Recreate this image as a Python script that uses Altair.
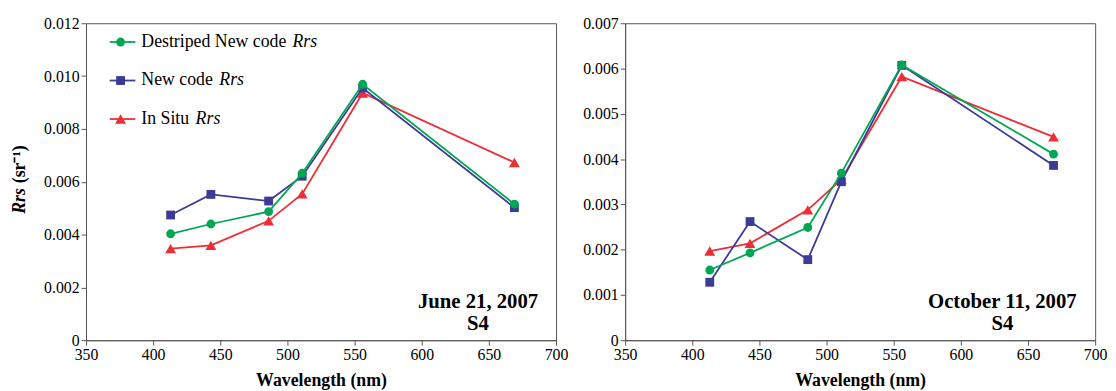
import altair as alt
import pandas as pd

wavelength = [413, 443, 486, 511, 556, 669]

series_names = ["Destriped New code ", "New code ", "In Situ "]
series_colors = ["#00a651", "#3b3b98", "#ee2e36"]
series_shapes = ["circle", "square", "triangle-up"]
series_sizes = [80, 80, 120]

# June 21, 2007
destriped_jun = [0.00403, 0.00440, 0.00487, 0.00632, 0.00969, 0.00515]
newcode_jun = [0.00474, 0.00552, 0.00527, 0.00621, 0.00955, 0.00502]
insitu_jun = [0.00347, 0.00359, 0.00452, 0.00554, 0.00936, 0.00673]

# October 11, 2007
destriped_oct = [0.00155, 0.00193, 0.00249, 0.00369, 0.00608, 0.00411]
newcode_oct = [0.00128, 0.00262, 0.00178, 0.00350, 0.00607, 0.00386]
insitu_oct = [0.00197, 0.00214, 0.00288, 0.00355, 0.00582, 0.00449]

x_ticks = [350, 400, 450, 500, 550, 600, 650, 700]
y_ticks_jun = [0, 0.002, 0.004, 0.006, 0.008, 0.010, 0.012]
y_ticks_oct = [0, 0.001, 0.002, 0.003, 0.004, 0.005, 0.006, 0.007]

FONT = "Liberation Serif"
one = pd.DataFrame({"k": [0]})


def text_mark(txt, x, y, size, weight="normal", style="normal", align="left",
              angle=0, baseline="alphabetic"):
    return alt.Chart(pd.DataFrame({"t": [txt]})).mark_text(
        font=FONT, fontSize=size, fontWeight=weight, fontStyle=style,
        align=align, baseline=baseline, angle=angle, color="black"
    ).encode(text="t:N", x=alt.value(x), y=alt.value(y))


def panel(vals, y_ticks, date_label, width, with_legend, with_ytitle):
    xscale = alt.Scale(domain=[350, 700], nice=False, zero=False)
    yscale = alt.Scale(domain=[0, y_ticks[-1]], nice=False)
    xaxis = alt.Axis(values=x_ticks, title="Wavelength (nm)", grid=False,
                     format="d", labelFont=FONT, labelFontSize=16,
                     labelColor="black", labelFlush=False, labelPadding=2,
                     titleFont=FONT, titleFontWeight="bold", titleFontSize=18,
                     titleColor="black", titlePadding=9)
    yaxis = alt.Axis(values=y_ticks, title=None, grid=False,
                     labelFont=FONT, labelFontSize=16, labelColor="black",
                     labelFlush=False, labelPadding=2,
                     labelExpr="datum.value == 0 ? '0' : format(datum.value, '.3f')")
    layers = []
    for idx in [2, 1, 0]:
        df = pd.DataFrame({"wl": wavelength, "rrs": vals[idx]})
        base = alt.Chart(df).encode(
            x=alt.X("wl:Q", scale=xscale, axis=xaxis),
            y=alt.Y("rrs:Q", scale=yscale, axis=yaxis),
        )
        layers.append(base.mark_line(color=series_colors[idx], strokeWidth=1.8))
        layers.append(base.mark_point(shape=series_shapes[idx], filled=True,
                                      size=series_sizes[idx],
                                      color=series_colors[idx], opacity=1))
    if with_legend:
        rows_y = [19, 58, 97]
        rrs_x = [209, 135, 111]
        for idx in range(3):
            ly = rows_y[idx]
            layers.append(alt.Chart(one).mark_rule(
                color=series_colors[idx], strokeWidth=1.8).encode(
                x=alt.value(24), x2=alt.value(50), y=alt.value(ly)))
            layers.append(alt.Chart(one).mark_point(
                shape=series_shapes[idx], filled=True, size=series_sizes[idx],
                color=series_colors[idx], opacity=1).encode(
                x=alt.value(35), y=alt.value(ly)))
            layers.append(text_mark(series_names[idx], 56, ly, 18,
                                    baseline="middle"))
            layers.append(text_mark("Rrs", rrs_x[idx], ly, 18, style="italic",
                                    baseline="middle"))
    if with_ytitle:
        layers.append(text_mark("Rrs", -67, 193, 18, weight="bold",
                                style="italic", angle=270, baseline="middle"))
        layers.append(text_mark("(sr\u207b\u00b9)", -67, 162, 18, weight="bold",
                                angle=270, baseline="middle"))
    cx = width - 79 if with_legend else width - 94
    layers.append(text_mark(date_label, cx, 288, 21, weight="bold", align="center"))
    layers.append(text_mark("S4", cx, 311, 21, weight="bold", align="center"))
    return alt.layer(*layers).properties(width=width, height=321)


left = panel([destriped_jun, newcode_jun, insitu_jun], y_ticks_jun,
             "June 21, 2007", 476, True, True)
right = panel([destriped_oct, newcode_oct, insitu_oct], y_ticks_oct,
              "October 11, 2007", 476, False, False)

chart = alt.hconcat(left, right, spacing=13).properties(
    padding={"left": 2, "top": 4, "right": 0, "bottom": 0},
    background="white",
).configure_view(
    stroke="#555555", strokeWidth=1
).configure_axis(
    labelFont=FONT, labelFontSize=16, labelColor="black",
    titleFont=FONT, titleColor="black",
    domainColor="#555555", tickColor="#555555", tickSize=5, labelPadding=2,
)

chart.save("out.html", embed_options={"renderer": "svg", "actions": False})
